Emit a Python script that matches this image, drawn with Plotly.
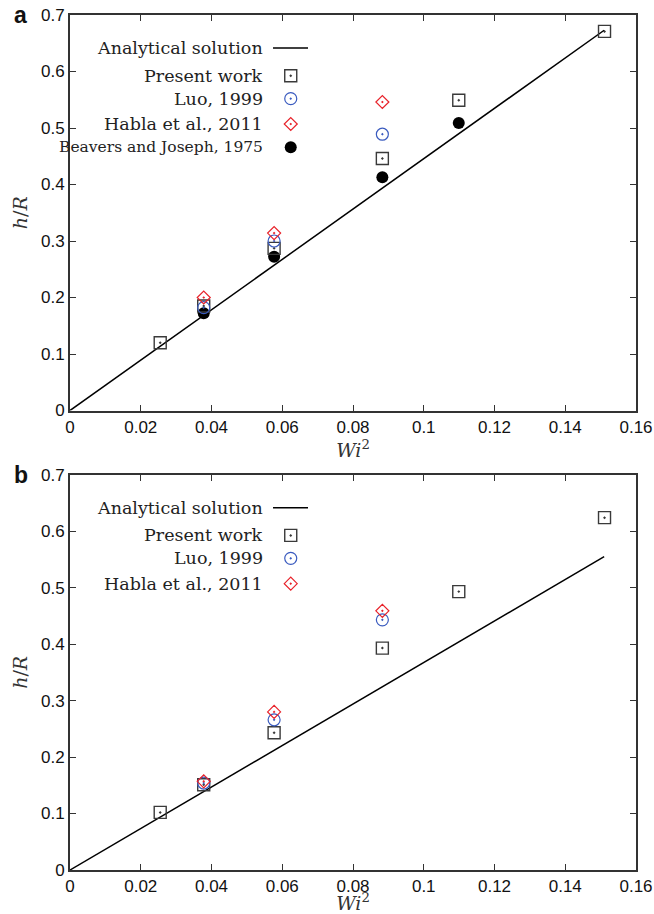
import plotly.graph_objects as go

# ---------------- data ----------------
# Panel a
a_line_x = [0.0, 0.151]
a_line_y = [0.0, 0.673]
a_present_x = [0.0255, 0.0378, 0.0577, 0.0883, 0.1099, 0.1511]
a_present_y = [0.120, 0.185, 0.287, 0.446, 0.549, 0.671]
a_luo_x = [0.0378, 0.0577, 0.0883]
a_luo_y = [0.182, 0.300, 0.489]
a_habla_x = [0.0378, 0.0577, 0.0883]
a_habla_y = [0.200, 0.314, 0.546]
a_beavers_x = [0.0378, 0.0577, 0.0883, 0.1099]
a_beavers_y = [0.172, 0.272, 0.413, 0.509]

# Panel b
b_line_x = [0.0, 0.151]
b_line_y = [0.0, 0.555]
b_present_x = [0.0255, 0.0378, 0.0577, 0.0883, 0.1099, 0.1511]
b_present_y = [0.102, 0.151, 0.243, 0.393, 0.493, 0.624]
b_luo_x = [0.0378, 0.0577, 0.0883]
b_luo_y = [0.154, 0.266, 0.443]
b_habla_x = [0.0378, 0.0577, 0.0883]
b_habla_y = [0.157, 0.280, 0.459]

x_ticks = [0, 0.02, 0.04, 0.06, 0.08, 0.1, 0.12, 0.14, 0.16]
x_ticklabels = ["0", "0.02", "0.04", "0.06", "0.08", "0.1", "0.12", "0.14", "0.16"]
y_ticks = [0, 0.1, 0.2, 0.3, 0.4, 0.5, 0.6, 0.7]
y_ticklabels = ["0", "0.1", "0.2", "0.3", "0.4", "0.5", "0.6", "0.7"]

legend_a = ["Analytical solution", "Present work", "Luo, 1999", "Habla et al., 2011",
            "Beavers and Joseph, 1975"]
legend_b = ["Analytical solution", "Present work", "Luo, 1999", "Habla et al., 2011"]

# ---------------- styles ----------------
C_SQ = "#3a3a3a"
C_LUO = "#3a5bbf"
C_HABLA = "#e8222a"
C_DOT = "#000000"
AX = "#333333"
SERIF = "DejaVu Serif"
SANS = "Liberation Sans, Arial, sans-serif"

sq_marker = dict(symbol="square-open-dot", size=12, color=C_SQ, line=dict(width=1.4, color=C_SQ))
luo_marker = dict(symbol="circle-open-dot", size=12, color=C_LUO, line=dict(width=1.2, color=C_LUO))
habla_marker = dict(symbol="diamond-open-dot", size=10, color=C_HABLA, line=dict(width=1.2, color=C_HABLA))
dot_marker = dict(symbol="circle", size=12, color=C_DOT, line=dict(width=0))

fig = go.Figure()


def add_panel(xa, ya, line_x, line_y, series):
    fig.add_trace(go.Scatter(x=line_x, y=line_y, mode="lines",
                             line=dict(color="#000", width=1.5),
                             xaxis=xa, yaxis=ya, showlegend=False, hoverinfo="skip"))
    for sx, sy, mk in series:
        fig.add_trace(go.Scatter(x=sx, y=sy, mode="markers", marker=mk,
                                 xaxis=xa, yaxis=ya, showlegend=False, cliponaxis=False))


add_panel("x", "y", a_line_x, a_line_y, [
    (a_beavers_x, a_beavers_y, dot_marker),
    (a_present_x, a_present_y, sq_marker),
    (a_luo_x, a_luo_y, luo_marker),
    (a_habla_x, a_habla_y, habla_marker),
])
add_panel("x2", "y2", b_line_x, b_line_y, [
    (b_present_x, b_present_y, sq_marker),
    (b_luo_x, b_luo_y, luo_marker),
    (b_habla_x, b_habla_y, habla_marker),
])

# ------------- custom legends (symbols on the right of text) -------------
LEG_TEXT_X = 0.345
LEG_KEY_X = 0.390
LEG_LINE_X0, LEG_LINE_X1 = 0.3587, 0.4205
LEG_ROWS_Y = [0.9166, 0.8465, 0.7884, 0.7244, 0.6655]
markers_cycle = [sq_marker, luo_marker, habla_marker, dot_marker]


def add_legend(xa, ya, labels):
    # line key
    fig.add_trace(go.Scatter(x=[LEG_LINE_X0, LEG_LINE_X1], y=[LEG_ROWS_Y[0]] * 2, mode="lines",
                             line=dict(color="#000", width=1.5), xaxis=xa, yaxis=ya,
                             showlegend=False, hoverinfo="skip"))
    for i, lab in enumerate(labels):
        yv = LEG_ROWS_Y[i]
        if i > 0:
            fig.add_trace(go.Scatter(x=[LEG_KEY_X], y=[yv], mode="markers",
                                     marker=markers_cycle[i - 1], xaxis=xa, yaxis=ya,
                                     showlegend=False, hoverinfo="skip"))
        fsize = 15.5 if lab.startswith("Beavers") else 17.5
        fig.add_annotation(x=LEG_TEXT_X, y=yv, xref=xa, yref=ya, text=lab, showarrow=False,
                           xanchor="right", yanchor="middle",
                           font=dict(family=SERIF, size=fsize, color="#222"))


add_legend("x3", "y3", legend_a)
add_legend("x4", "y4", legend_b)

# ---------------- axes ----------------
dom_a = [0.5374, 1.0]
dom_b = [0.0, 0.4623]

common_x = dict(range=[0, 0.16], tickvals=x_ticks, ticktext=x_ticklabels, ticks="inside",
                ticklen=6, tickwidth=1.2, tickcolor=AX, showline=True, linewidth=2, linecolor=AX,
                mirror="ticks", showgrid=False, zeroline=False, automargin=False,
                ticklabeloverflow="allow",
                tickfont=dict(family=SANS, size=17, color="#111"))
common_y = dict(range=[0, 0.7], tickvals=y_ticks, ticktext=y_ticklabels, ticks="inside",
                ticklen=6, tickwidth=1.2, tickcolor=AX, showline=True, linewidth=2, linecolor=AX,
                mirror="ticks", showgrid=False, zeroline=False, automargin=False,
                ticklabeloverflow="allow",
                tickfont=dict(family=SANS, size=17, color="#111"))

xtitle = dict(text="<i>Wi</i><sup>2</sup>", font=dict(family=SERIF, size=19, color="#333"), standoff=0)
ytitle = dict(text="<i>h</i>/<i>R</i>", font=dict(family=SERIF, size=19, color="#333"), standoff=8)

overlay = dict(range=[0, 1], visible=False, showgrid=False, zeroline=False, fixedrange=True,
               automargin=False)

fig.update_layout(
    width=654, height=914,
    margin=dict(l=70, r=18, t=15, b=44),
    paper_bgcolor="white", plot_bgcolor="white",
    xaxis=dict(common_x, domain=[0, 1], anchor="y", title=xtitle),
    yaxis=dict(common_y, domain=dom_a, anchor="x", title=ytitle),
    xaxis2=dict(common_x, domain=[0, 1], anchor="y2", title=xtitle),
    yaxis2=dict(common_y, domain=dom_b, anchor="x2", title=ytitle),
    xaxis3=dict(overlay, overlaying="x", anchor="y3"),
    yaxis3=dict(overlay, overlaying="y", anchor="x3"),
    xaxis4=dict(overlay, overlaying="x2", anchor="y4"),
    yaxis4=dict(overlay, overlaying="y2", anchor="x4"),
    showlegend=False,
)

# panel letters
fig.add_annotation(x=-0.103, y=1.0, xref="paper", yref="paper", text="<b>a</b>", showarrow=False,
                   xanchor="left", yanchor="middle", font=dict(family=SANS, size=23, color="#111"))
fig.add_annotation(x=-0.103, y=dom_b[1], xref="paper", yref="paper", text="<b>b</b>", showarrow=False,
                   xanchor="left", yanchor="middle", font=dict(family=SANS, size=23, color="#111"))

# remove the default page margin so the 654x914 figure fills the window exactly
fig.write_html("out.html",
               config={"displayModeBar": False},
               post_script="document.body.style.margin='0';"
                           "document.documentElement.style.overflow='hidden';")
